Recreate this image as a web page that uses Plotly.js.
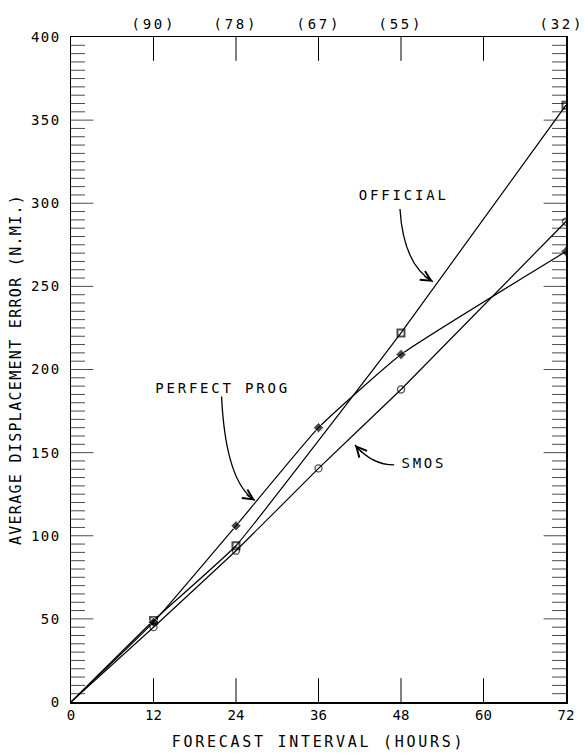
<!DOCTYPE html>
<html>
<head>
<meta charset="utf-8">
<script src="https://cdn.plot.ly/plotly-3.0.1.min.js"></script>
<style>
body{margin:0;background:#fff}
#chart .ytick text{letter-spacing:1.5px}
#chart .xtitle{letter-spacing:2.7px}
#chart .ytitle{letter-spacing:1.3px}
#chart .annotation-text{letter-spacing:2.8px}
</style>
</head>
<body>
<div id="chart"></div>
<script>
// ---- data ----
const hours = [0, 12, 24, 36, 48, 72];
const officialHours = [0, 12, 24, 48, 72];
const official = [0, 49, 94, 222, 359];
const perfectProg = [0, 48, 106, 165, 209, 271];
const smos = [0, 45, 91, 140.5, 188, 289];
const bottomTicks = [0, 12, 24, 36, 48, 60, 72];
const topTickVals = [12, 24, 36, 48, 72];
const topTickText = ['(90)', '(78)', '(67)', '(55)', '(32)'];
const labelNames = ['OFFICIAL', 'PERFECT PROG', 'SMOS'];

const FONT = 'DejaVu Sans Mono';
const X_MAX = 72, Y_MAX = 400, Y_MINOR = 5, Y_MAJOR = 50;
const sz = (arr, s) => arr.map(v => v === 0 ? 0 : s);

const traces = [
  {x: officialHours, y: official, mode: 'lines+markers', line: {color: '#000', width: 1.2, shape: 'spline', smoothing: 0.3},
   marker: {symbol: 'square-open', size: sz(officialHours, 7), color: '#000', line: {width: 2, color: '#000'}}},
  {x: hours, y: perfectProg, mode: 'lines+markers', line: {color: '#000', width: 1.2, shape: 'spline', smoothing: 0.4},
   marker: {symbol: 'diamond', size: sz(hours, 8), color: '#000'}},
  {x: hours, y: smos, mode: 'lines+markers', line: {color: '#000', width: 1.2, shape: 'spline', smoothing: 0.3},
   marker: {symbol: 'circle-open', size: sz(hours, 7), color: '#000', line: {width: 1.3, color: '#000'}}}
];

// inward tick marks: line markers centred on the axis lines, the outer half clipped by the plot area
const yTickVals = [];
for (let v = Y_MINOR; v < Y_MAX; v += Y_MINOR) yTickVals.push(v);
const yTickSizes = yTickVals.map(v => v % Y_MAJOR === 0 ? 32 : 20);
const xInner = bottomTicks.filter(v => v > 0 && v < X_MAX);
const tickMarker = (symbol, size) => ({symbol: symbol, size: size, color: '#000', line: {width: 1, color: '#000'}});
[0, X_MAX].forEach(xv => traces.push({
  x: yTickVals.map(() => xv), y: yTickVals, mode: 'markers', hoverinfo: 'skip', cliponaxis: true,
  marker: tickMarker('line-ew', yTickSizes)
}));
[0, Y_MAX].forEach(yv => traces.push({
  x: xInner, y: xInner.map(() => yv), mode: 'markers', hoverinfo: 'skip', cliponaxis: true,
  marker: tickMarker('line-ns', 34)
}));

// curved leader arrows: start, control, tip in data units; arrowhead tail offset in px
const arrows = [
  {p0: [47.85, 296.5], c: [48.36, 262.9], p1: [52.65, 252.8], ax: -10, ay: -6},
  {p0: [21.9, 183.8], c: [22.5, 132.5], p1: [26.76, 121.2], ax: -10, ay: -6.5},
  {p0: [47.0, 142.6], c: [43.8, 142.6], p1: [41.3, 154.6], ax: 8, ay: 9}
];
const textPos = [[48.3, 305], [22.0, 188.9], [51.3, 143.8]];

const shapes = arrows.map(a => ({
  type: 'path', xref: 'x', yref: 'y',
  path: `M ${a.p0[0]},${a.p0[1]} Q ${a.c[0]},${a.c[1]} ${a.p1[0]},${a.p1[1]}`,
  line: {color: '#000', width: 1.3}
}));

const annotations = [];
labelNames.forEach((name, i) => {
  annotations.push({x: textPos[i][0], y: textPos[i][1], text: name, showarrow: false,
    font: {family: FONT, size: 14, color: '#000'}});
  const a = arrows[i];
  annotations.push({x: a.p1[0], y: a.p1[1], text: '', showarrow: true,
    ax: a.ax, ay: a.ay, arrowhead: 5, arrowsize: 2, arrowwidth: 1, arrowcolor: '#000', standoff: 0});
});
topTickVals.forEach((v, i) => {
  annotations.push({x: v, y: 1, xref: 'x', yref: 'paper', yanchor: 'bottom', yshift: 3, text: topTickText[i],
    xshift: v === X_MAX ? -4 : 0, showarrow: false, font: {family: FONT, size: 14, color: '#000'}});
});

const layout = {
  width: 584, height: 756,
  margin: {l: 71, r: 18, t: 37, b: 54},
  paper_bgcolor: '#fff', plot_bgcolor: '#fff', showlegend: false,
  font: {family: FONT, size: 14, color: '#000'},
  xaxis: {range: [0, X_MAX], tickvals: bottomTicks, ticks: '',
    showline: true, linecolor: '#000', linewidth: 1.5, mirror: true, showgrid: false, zeroline: false,
    tickfont: {family: FONT, size: 14},
    title: {text: 'FORECAST INTERVAL (HOURS)', font: {family: FONT, size: 15}, standoff: 14}},
  yaxis: {range: [0, Y_MAX], dtick: Y_MAJOR, tick0: 0, ticks: '',
    showline: true, linecolor: '#000', linewidth: 1.5, mirror: true, showgrid: false, zeroline: false,
    tickfont: {family: FONT, size: 14}, ticklabelstandoff: 6,
    title: {text: 'AVERAGE DISPLACEMENT ERROR (N.MI.)', font: {family: FONT, size: 15}, standoff: 10}},
  shapes: shapes,
  annotations: annotations
};

Plotly.newPlot('chart', traces, layout, {staticPlot: true, displayModeBar: false});
</script>
</body>
</html>
